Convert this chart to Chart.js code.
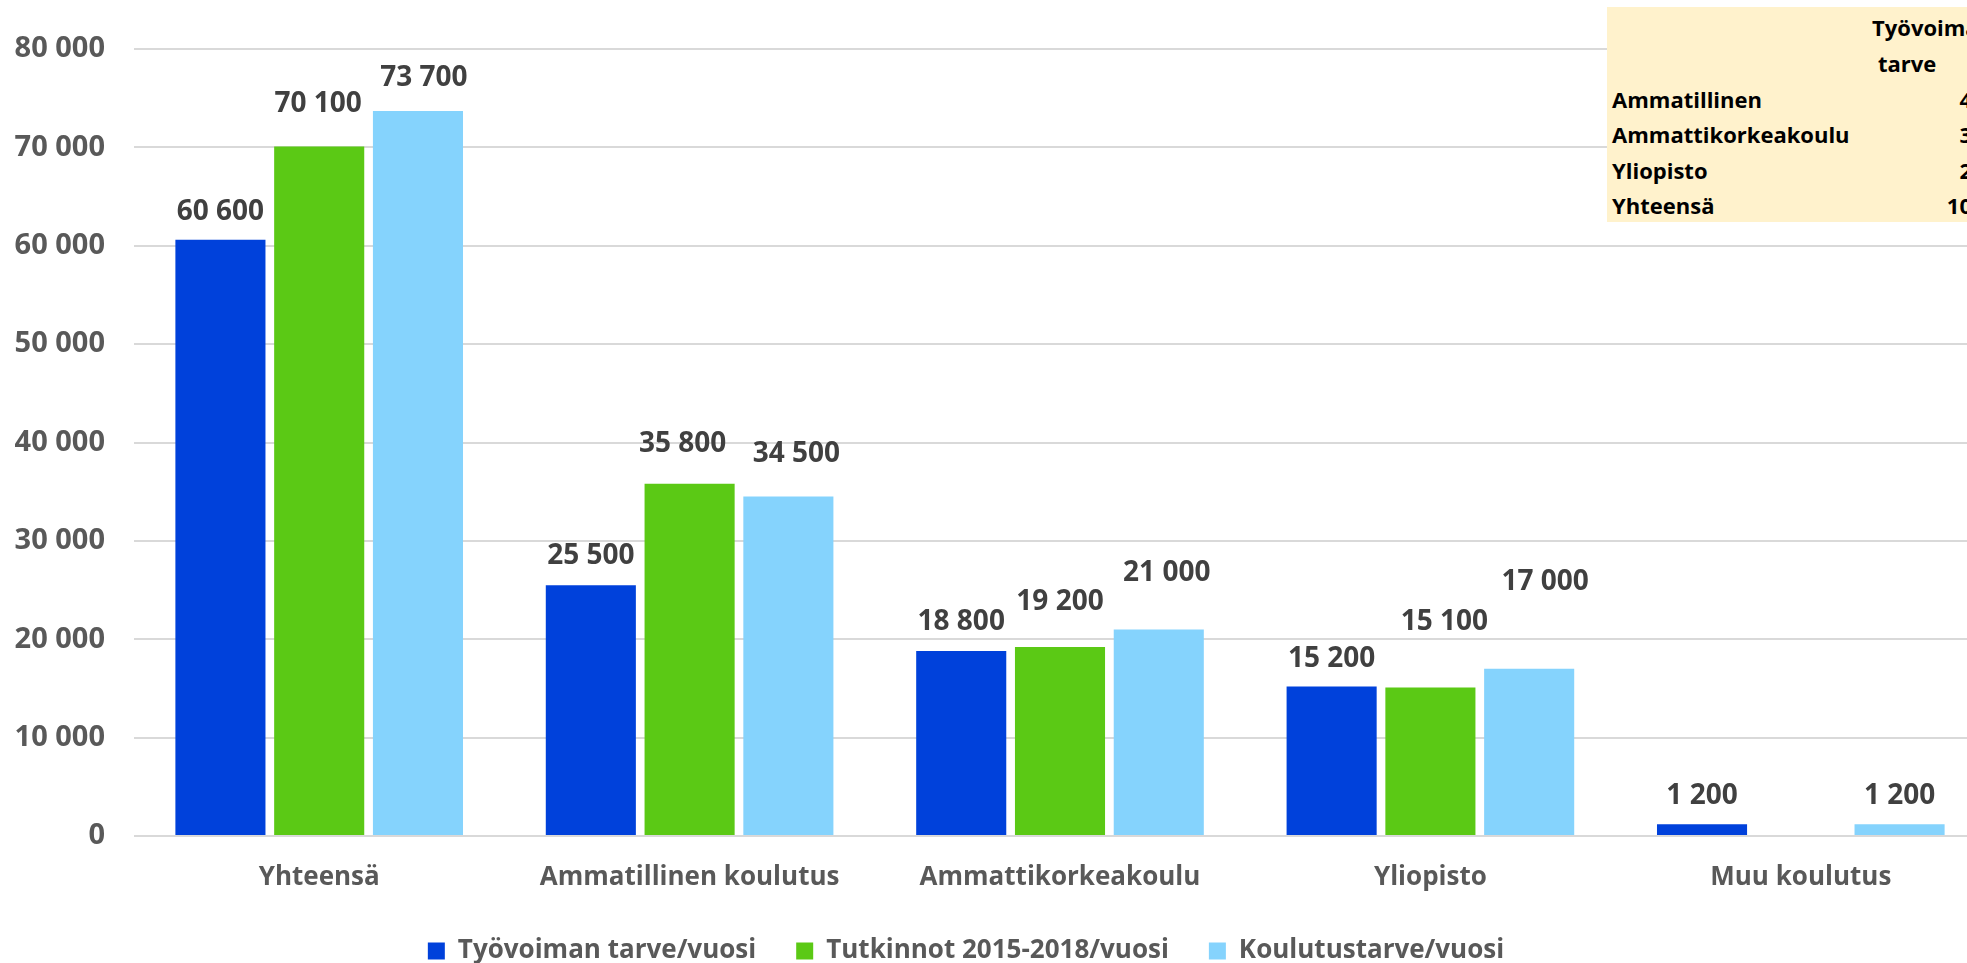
<!DOCTYPE html>
<html>
<head>
<meta charset="utf-8">
<script src="https://cdn.jsdelivr.net/npm/chart.js@4.4.1/dist/chart.umd.min.js"></script>
<style>
  html, body { margin:0; padding:0; background:#fff; overflow:hidden; width:1967px; height:963px; }
  #wrap { position:absolute; left:0; top:0; width:1986px; height:963px; }
  #tbl { position:absolute; left:1607px; top:7px; width:420px; height:215px; background:#FFF2CC;
         font-family:'Open Sans', sans-serif; font-weight:700; font-size:22px; color:#000; }
  .t { position:absolute; white-space:nowrap; line-height:1; transform:translateY(-50%); }
  .r { transform:translate(-100%, -50%); }
</style>
</head>
<body>
<div id="wrap"><canvas id="c" width="1986" height="963"></canvas></div>
<div id="tbl"></div>
<script>
// ---- data ----
const categories = ['Yhteensä', 'Ammatillinen koulutus', 'Ammattikorkeakoulu', 'Yliopisto', 'Muu koulutus'];
const seriesNames = ['Työvoiman tarve/vuosi', 'Tutkinnot 2015-2018/vuosi', 'Koulutustarve/vuosi'];
const tyovoimanTarve = [60600, 25500, 18800, 15200, 1200];
const tutkinnot = [70100, 35800, 19200, 15100, null];
const koulutustarve = [73700, 34500, 21000, 17000, 1200];
const yMin = 0, yMax = 80000, yStep = 10000;

// partially visible inset table (cut at right edge of the picture)
const tableHeader = ['Työvoiman', 'tarve'];
const tableRows = ['Ammatillinen', 'Ammattikorkeakoulu', 'Yliopisto', 'Yhteensä'];
const tableVisibleValues = ['4', '3', '2', '10'];

// ---- styles / label placement (pixels, as hand-placed in the original) ----
const colors = ['#0041DB', '#5BC915', '#85D3FD'];
const FONT = "'Open Sans', sans-serif";
const labelLiftPx = [
  [20, 21, 21, 19, 20],
  [34, 32, 37, 57, 0],
  [25, 35, 48, 79, 20]
];
const labelShiftPx = [
  [0, 0, 0, 0, 0],
  [-1, -7, 0, 14, 0],
  [6, 8, 8, 16, 0]
];

function fmt(v) { return String(v).replace(/\B(?=(\d{3})+(?!\d))/g, ' '); }

(function buildTable() {
  const tbl = document.getElementById('tbl');
  const hdrPos = [[265, 20], [271, 56]];
  tableHeader.forEach((h, i) => {
    const d = document.createElement('div'); d.className = 't'; d.textContent = h;
    d.style.left = hdrPos[i][0] + 'px'; d.style.top = hdrPos[i][1] + 'px'; tbl.appendChild(d);
  });
  const rowY = [92, 127, 163, 198];
  tableRows.forEach((r, i) => {
    const d = document.createElement('div'); d.className = 't'; d.textContent = r;
    d.style.left = '5px'; d.style.top = rowY[i] + 'px'; tbl.appendChild(d);
    const v = document.createElement('div'); v.className = 't r'; v.textContent = tableVisibleValues[i];
    v.style.left = '365px'; v.style.top = rowY[i] + 'px'; tbl.appendChild(v);
  });
})();

const valueLabels = {
  id: 'valueLabels',
  afterDatasetsDraw(chart) {
    const ctx = chart.ctx;
    ctx.save();
    ctx.font = `700 28px ${FONT}`;
    ctx.fillStyle = '#404040';
    ctx.textAlign = 'center';
    ctx.textBaseline = 'alphabetic';
    chart.data.datasets.forEach((ds, di) => {
      const meta = chart.getDatasetMeta(di);
      meta.data.forEach((bar, i) => {
        const v = ds.data[i];
        if (v === null || v === undefined) return;
        ctx.fillText(fmt(v), bar.x + labelShiftPx[di][i], bar.y - labelLiftPx[di][i]);
      });
    });
    ctx.restore();
  }
};

const shiftLegend = {
  id: 'shiftLegend',
  afterLayout(chart) {
    const l = chart.legend;
    if (l) { l.left -= 27; l.right -= 27; l.top -= 21; l.bottom -= 21; }
  }
};

function draw() {
  new Chart(document.getElementById('c'), {
    type: 'bar',
    data: {
      labels: categories,
      datasets: [
        { label: seriesNames[0], data: tyovoimanTarve, backgroundColor: colors[0] },
        { label: seriesNames[1], data: tutkinnot, backgroundColor: colors[1] },
        { label: seriesNames[2], data: koulutustarve, backgroundColor: colors[2] }
      ]
    },
    options: {
      responsive: false,
      animation: false,
      events: [],
      datasets: { bar: { categoryPercentage: 0.8, barPercentage: 0.912, borderWidth: 0 } },
      layout: { padding: { top: 49, right: 0, left: 0, bottom: -32 } },
      scales: {
        x: {
          grid: { display: false, drawTicks: false },
          border: { display: false },
          ticks: { color: '#595959', font: { family: FONT, size: 26, weight: '700', lineHeight: 1.5 }, padding: 22, maxRotation: 0 }
        },
        y: {
          min: yMin, max: yMax,
          afterFit(scale) { scale.width = 134; },
          grid: { color: '#D9D9D9', lineWidth: 2, drawTicks: false },
          border: { display: false },
          ticks: {
            stepSize: yStep, padding: 29, color: '#595959',
            font: { family: FONT, size: 29, weight: '700' },
            callback: v => fmt(v)
          }
        }
      },
      plugins: {
        tooltip: { enabled: false },
        legend: {
          position: 'bottom',
          labels: {
            boxWidth: 17, boxHeight: 17, padding: 40, color: '#595959',
            font: { family: FONT, size: 26, weight: '700' }
          }
        }
      }
    },
    plugins: [valueLabels, shiftLegend]
  });
}

if (document.fonts && document.fonts.load) {
  document.fonts.load(`700 26px 'Open Sans'`).then(draw, draw);
} else { draw(); }
</script>
</body>
</html>
